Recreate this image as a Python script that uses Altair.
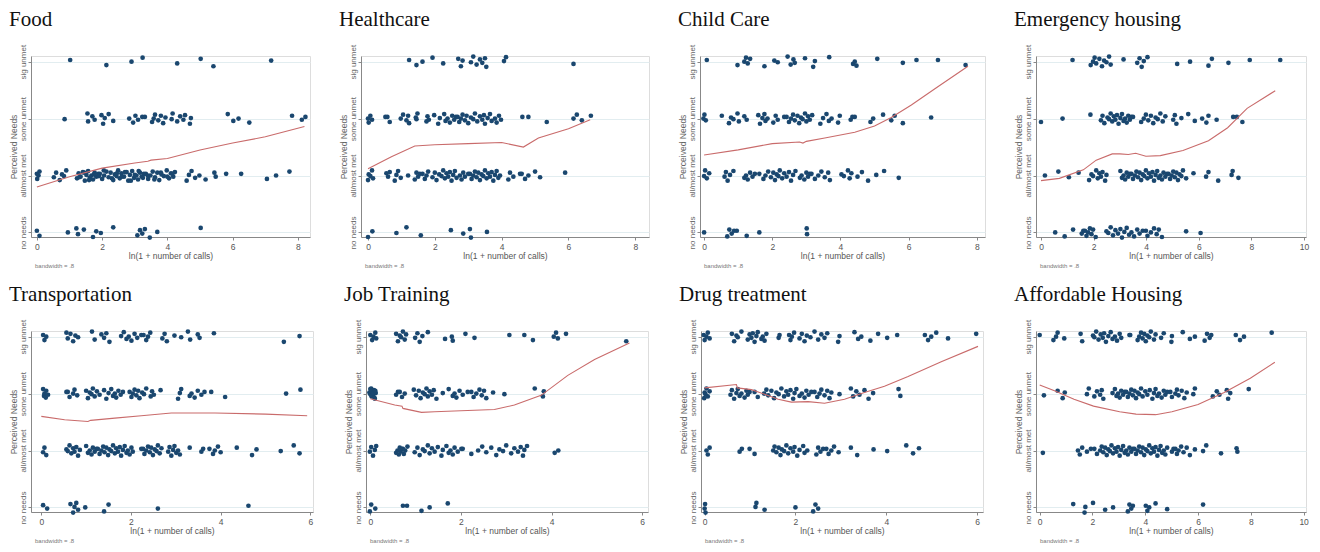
import altair as alt
import pandas as pd

# ---------------- data ----------------
LEVEL_NAMES = ["no needs", "all/most met", "some unmet", "sig unmet"]
TITLES = ["Food", "Healthcare", "Child Care", "Emergency housing",
          "Transportation", "Job Training", "Drug treatment", "Affordable Housing"]
XLABEL = "ln(1 + number of calls)"
YLABEL = "Perceived Needs"
NOTE = "bandwidth = .8"

# small vertical jitter offsets (in level units), cycled over points
JITTER = [0.03, -0.06, 0.0, 0.07, -0.03, 0.05, -0.08, 0.02, -0.01, 0.09, -0.05, 0.04,
          -0.02, 0.06, -0.09, 0.01, 0.08, -0.04, 0.0, -0.07, 0.05, -0.02, 0.03]

FOOD_SIG = [1.02, 2.13, 2.90, 3.24, 4.30, 5.02, 5.41, 7.18]
FOOD_SOME = [0.85, 1.55, 1.57, 1.70, 1.77, 1.98, 2.03, 2.08, 2.20, 2.34, 2.83, 2.95, 3.02, 3.10, 3.23, 3.31, 3.53,
             3.58, 3.62, 3.72, 3.80, 3.87, 3.94, 4.13, 4.16, 4.30, 4.39, 4.49, 4.54, 4.69, 4.72, 5.85, 6.02, 6.18,
             6.51, 7.82, 8.12, 8.23]
FOOD_MET = [0.0, 0.01, 0.05, 0.08, 0.52, 0.59, 0.70, 0.77, 0.83, 0.90, 1.23, 1.28, 1.34, 1.41, 1.47, 1.52, 1.57,
            1.62, 1.67, 1.72, 1.77, 1.82, 1.88, 1.93, 2.0, 2.06, 2.13, 2.2, 2.26, 2.34, 2.39, 2.44, 2.49, 2.54,
            2.59, 2.67, 2.75, 2.8, 2.85, 2.92, 2.98, 3.05, 3.1, 3.16, 3.21, 3.28, 3.34, 3.41, 3.48, 3.55, 3.62,
            3.69, 3.75, 3.82, 3.89, 3.98, 4.05, 4.11, 4.18, 4.23, 4.59, 4.66, 4.74, 4.85, 4.98, 5.17, 5.44, 5.48,
            5.8, 6.26, 7.05, 7.33, 7.74, 1.3, 1.45, 1.6, 1.75, 1.9, 2.05, 2.3, 2.45, 2.6, 2.7, 2.88, 3.0, 3.12,
            3.25, 3.4, 3.6, 3.8, 4.0, 4.15]
FOOD_NONE = [0.0, 0.08, 0.95, 1.21, 1.26, 1.44, 1.72, 1.82, 1.96, 2.34, 3.08, 3.16, 3.23, 3.31, 3.46, 3.69, 5.02]
FOOD_FIT_X = [0, 1, 2, 3, 3.4, 3.5, 4, 5, 6, 7, 8.2]
FOOD_FIT_Y = [1.80, 1.98, 2.13, 2.22, 2.25, 2.27, 2.30, 2.45, 2.57, 2.68, 2.86]

HEALTH_SIG = [1.23, 1.45, 1.63, 1.93, 2.25, 2.7, 2.78, 2.83, 3.08, 3.15, 3.25, 3.35, 3.42, 3.5, 3.54, 4.07, 4.13, 6.15]
HEALTH_SOME = [0.0, 0.02, 0.07, 0.12, 0.52, 0.58, 0.65, 0.98, 1.05, 1.15, 1.2, 1.23, 1.43, 1.45, 1.48, 1.75, 1.78,
               1.82, 1.98, 2.1, 2.15, 2.28, 2.32, 2.38, 2.45, 2.52, 2.58, 2.63, 2.68, 2.73, 2.78, 2.83, 2.9, 2.95,
               3.0, 3.08, 3.15, 3.2, 3.27, 3.35, 3.42, 3.47, 3.5, 3.58, 3.65, 3.7, 3.8, 3.85, 3.92, 3.98, 4.62,
               4.8, 5.35, 6.15, 6.25, 6.4, 6.67]
HEALTH_MET = [0.0, 0.02, 0.07, 0.12, 0.15, 0.55, 0.6, 0.65, 0.8, 0.85, 0.9, 0.98, 1.2, 1.4, 1.45, 1.5, 1.55, 1.63,
              1.7, 1.75, 1.8, 1.93, 2.0, 2.05, 2.13, 2.2, 2.25, 2.3, 2.35, 2.4, 2.45, 2.5, 2.55, 2.6, 2.65, 2.75,
              2.8, 2.85, 2.9, 3.0, 3.05, 3.1, 3.15, 3.2, 3.25, 3.3, 3.35, 3.4, 3.45, 3.5, 3.55, 3.6, 3.65, 3.7,
              3.75, 3.8, 3.85, 3.9, 3.95, 4.2, 4.25, 4.35, 4.55, 4.6, 4.7, 4.8, 5.0, 5.15, 5.9]
HEALTH_NONE = [0.0, 0.13, 0.85, 1.15, 1.58, 2.48, 2.85, 3.05, 3.08, 3.56]
HEALTH_FIT_X = [0, 0.7, 1.4, 2.0, 3.0, 4.0, 4.65, 5.1, 6.0, 6.65]
HEALTH_FIT_Y = [2.12, 2.33, 2.52, 2.54, 2.56, 2.58, 2.50, 2.66, 2.82, 2.98]

CHILD_SIG = [0.08, 0.98, 1.18, 1.23, 1.28, 1.35, 1.77, 2.06, 2.16, 2.45, 2.54, 2.62, 2.66, 2.96, 3.2, 3.25, 3.67,
             4.37, 4.42, 4.47, 5.08, 5.83, 6.23, 6.86, 7.67]
CHILD_SOME = [-0.02, 0.01, 0.05, 0.52, 0.73, 0.79, 0.86, 0.98, 1.02, 1.18, 1.25, 1.59, 1.64, 1.71, 1.77, 1.8, 1.86,
              2.03, 2.1, 2.16, 2.35, 2.42, 2.49, 2.55, 2.61, 2.66, 2.74, 2.79, 2.84, 2.89, 2.96, 3.0, 3.05, 3.1,
              3.17, 3.41, 3.49, 3.59, 3.66, 3.74, 3.93, 3.98, 4.3, 4.35, 4.42, 4.88, 4.96, 5.25, 5.49, 5.59, 5.83,
              6.66]
CHILD_MET = [0.0, 0.03, 0.08, 0.15, 0.6, 0.64, 0.69, 0.76, 0.86, 1.18, 1.23, 1.28, 1.35, 1.42, 1.49, 1.62, 1.74,
             1.8, 1.88, 1.96, 2.03, 2.08, 2.13, 2.18, 2.22, 2.29, 2.35, 2.42, 2.49, 2.55, 2.61, 2.68, 2.81, 2.86,
             2.94, 3.0, 3.05, 3.1, 3.15, 3.25, 3.35, 3.44, 3.54, 3.64, 3.69, 4.03, 4.1, 4.22, 4.27, 4.32, 4.5,
             4.63, 4.81, 5.05, 5.28, 5.71]
CHILD_NONE = [0.0, 0.68, 0.74, 0.81, 0.88, 0.96, 1.25, 1.62, 3.01, 3.02]
CHILD_FIT_X = [0, 1.0, 2.0, 2.8, 2.9, 3.0, 3.54, 4.42, 5.0, 5.49, 6.08, 6.76, 7.74]
CHILD_FIT_Y = [2.36, 2.45, 2.56, 2.59, 2.57, 2.60, 2.66, 2.76, 2.87, 3.02, 3.24, 3.52, 3.92]

EMERG_SIG = [1.2, 1.89, 1.98, 2.04, 2.1, 2.22, 2.32, 2.4, 2.49, 2.59, 2.65, 3.14, 3.66, 3.75, 3.83, 3.91, 4.05,
             5.18, 5.67, 6.37, 6.5, 7.13, 7.94, 9.1]
EMERG_SOME = [0.0, 0.82, 1.88, 2.28, 2.34, 2.41, 2.53, 2.59, 2.65, 2.71, 2.77, 2.83, 2.89, 2.95, 3.02, 3.08, 3.14,
              3.2, 3.26, 3.32, 3.38, 3.44, 3.5, 3.81, 3.91, 3.99, 4.08, 4.18, 4.27, 4.36, 4.44, 4.54, 4.63, 4.73,
              5.03, 5.09, 5.15, 5.34, 5.6, 5.85, 6.13, 6.29, 6.37, 6.68, 7.31, 7.45, 7.66]
EMERG_MET = [0.15, 0.66, 1.06, 1.43, 1.83, 1.92, 1.98, 2.1, 2.16, 2.22, 2.28, 2.34, 2.44, 2.49, 3.02, 3.08, 3.14,
             3.2, 3.26, 3.32, 3.38, 3.44, 3.5, 3.57, 3.63, 3.69, 3.75, 3.81, 3.87, 3.93, 3.99, 4.05, 4.11, 4.18,
             4.24, 4.3, 4.36, 4.42, 4.48, 4.54, 4.6, 4.66, 4.73, 4.79, 4.85, 4.91, 4.97, 5.03, 5.09, 5.15, 5.21,
             5.27, 5.34, 5.4, 5.52, 5.8, 6.28, 6.37, 6.74, 7.25, 7.29, 7.51]
EMERG_NONE = [0.54, 0.9, 1.22, 1.55, 1.61, 1.67, 1.73, 1.79, 1.86, 1.92, 1.98, 2.08, 2.49, 2.56, 2.65, 2.74, 2.83,
              2.93, 3.02, 3.08, 3.17, 3.26, 3.35, 3.44, 3.54, 3.66, 3.75, 3.87, 3.99, 4.05, 4.18, 4.3, 4.4, 4.48,
              4.6, 5.52, 6.07]
EMERG_FIT_X = [0, 0.7, 1.61, 2.1, 2.71, 3.0, 3.32, 3.6, 3.99, 4.54, 5.4, 6.37, 7.1, 7.84, 8.91]
EMERG_FIT_Y = [1.91, 1.95, 2.10, 2.27, 2.38, 2.38, 2.37, 2.39, 2.34, 2.35, 2.44, 2.61, 2.84, 3.18, 3.49]

TRANS_SIG = [0.04, 0.07, 0.11, 0.56, 0.59, 0.65, 0.71, 0.76, 0.82, 1.13, 1.19, 1.34, 1.4, 1.45, 1.52, 1.78, 1.84,
             1.9, 1.95, 2.01, 2.08, 2.14, 2.23, 2.28, 2.34, 2.38, 2.43, 2.7, 2.75, 2.8, 2.97, 3.12, 3.27, 3.32,
             3.49, 3.53, 3.85, 5.41, 5.76]
TRANS_SOME = [0.04, 0.06, 0.07, 0.1, 0.11, 0.15, 0.56, 0.59, 0.63, 0.71, 0.74, 0.8, 1.0, 1.04, 1.08, 1.12, 1.15,
              1.19, 1.24, 1.3, 1.4, 1.45, 1.5, 1.56, 1.6, 1.64, 1.67, 1.72, 1.77, 1.82, 1.97, 2.01, 2.04, 2.08,
              2.12, 2.16, 2.19, 2.25, 2.29, 2.34, 2.44, 2.47, 2.51, 2.66, 3.05, 3.09, 3.12, 3.31, 3.35, 3.42, 3.49,
              3.57, 3.64, 3.79, 4.1, 5.46, 5.78]
TRANS_MET = [0.04, 0.07, 0.11, 0.56, 0.59, 0.63, 0.67, 0.71, 0.74, 0.78, 0.82, 0.86, 1.0, 1.04, 1.08, 1.12, 1.15,
             1.19, 1.23, 1.26, 1.3, 1.34, 1.38, 1.41, 1.45, 1.49, 1.52, 1.56, 1.6, 1.64, 1.67, 1.71, 1.75, 1.78,
             1.82, 1.86, 1.9, 1.93, 1.97, 2.01, 2.04, 2.23, 2.27, 2.3, 2.34, 2.38, 2.42, 2.45, 2.49, 2.53, 2.57,
             2.6, 2.64, 2.68, 2.83, 2.86, 2.9, 2.94, 2.97, 3.01, 3.05, 3.09, 3.31, 3.57, 3.61, 3.75, 3.83, 3.87,
             3.94, 4.0, 4.36, 4.7, 4.8, 5.34, 5.63, 5.76]
TRANS_NONE = [0.04, 0.13, 0.65, 0.71, 0.74, 0.78, 0.82, 0.98, 1.4, 1.5, 2.6, 4.62]
TRANS_FIT_X = [0, 0.52, 1.04, 1.1, 1.64, 2.23, 2.9, 3.87, 5.0, 5.93]
TRANS_FIT_Y = [2.60, 2.54, 2.51, 2.53, 2.57, 2.61, 2.66, 2.66, 2.64, 2.61]

JOB_SIG = [0.0, 0.04, 0.07, 0.11, 0.13, 0.57, 0.61, 0.65, 0.68, 0.72, 0.76, 0.79, 0.99, 1.04, 1.09, 1.15, 1.27,
           1.65, 1.8, 1.82, 2.1, 2.3, 3.07, 3.4, 3.59, 4.05, 4.1, 4.14, 4.32, 5.65]
JOB_SOME = [-0.02, 0.0, 0.02, 0.03, 0.05, 0.06, 0.08, 0.1, 0.12, 0.0, 0.03, 0.06, 0.09, 0.11, 0.57, 0.61, 0.65,
            0.7, 0.76, 0.96, 1.01, 1.07, 1.11, 1.16, 1.2, 1.24, 1.27, 1.31, 1.36, 1.4, 1.46, 1.6, 1.73, 1.82, 1.86,
            1.9, 1.97, 2.04, 2.15, 2.23, 2.28, 2.34, 2.41, 2.46, 2.51, 2.56, 2.71, 2.96, 3.63, 3.81, 3.83]
JOB_MET = [-0.01, 0.02, 0.06, 0.1, 0.13, 0.57, 0.6, 0.63, 0.65, 0.67, 0.7, 0.72, 0.74, 0.77, 0.82, 0.98, 1.04,
           1.09, 1.16, 1.2, 1.27, 1.31, 1.36, 1.42, 1.49, 1.57, 1.6, 1.68, 1.73, 1.77, 1.82, 1.86, 1.93, 2.01,
           2.04, 2.23, 2.38, 2.47, 2.56, 2.67, 2.78, 2.85, 2.93, 3.0, 3.11, 3.18, 3.26, 3.32, 3.37, 3.4, 3.46,
           4.07, 4.15]
JOB_NONE = [-0.01, 0.02, 0.11, 0.72, 0.81, 1.13, 1.31, 1.71]
JOB_FIT_X = [0, 0.54, 0.70, 0.72, 1.13, 1.42, 2.0, 2.74, 3.18, 3.77, 4.36, 4.95, 5.72]
JOB_FIT_Y = [2.91, 2.80, 2.78, 2.74, 2.67, 2.68, 2.70, 2.72, 2.80, 2.97, 3.32, 3.60, 3.89]

DRUG_SIG = [-0.02, 0.0, 0.04, 0.07, 0.11, 0.6, 0.65, 0.7, 0.73, 0.81, 0.95, 0.99, 1.03, 1.06, 1.1, 1.14, 1.17,
            1.25, 1.28, 1.32, 1.36, 1.63, 1.65, 1.86, 1.89, 1.92, 1.97, 2.09, 2.14, 2.2, 2.25, 2.33, 2.42, 2.5,
            2.57, 2.64, 2.7, 2.94, 2.97, 3.3, 3.38, 3.45, 3.65, 3.82, 4.02, 4.24, 4.85, 4.92, 4.99, 5.1, 5.36, 5.98]
DRUG_SOME = [-0.01, 0.0, 0.02, 0.04, 0.07, 0.11, 0.57, 0.6, 0.65, 0.7, 0.73, 0.77, 0.81, 0.88, 0.92, 0.95, 0.99,
             1.1, 1.17, 1.31, 1.36, 1.4, 1.47, 1.53, 1.58, 1.63, 1.69, 1.75, 1.8, 1.84, 1.89, 1.95, 1.98, 2.02,
             2.09, 2.14, 2.2, 2.24, 2.29, 2.35, 2.42, 2.48, 2.53, 2.57, 2.64, 2.7, 2.75, 2.79, 2.97, 3.22, 3.27,
             3.34, 3.41, 3.52, 3.61, 3.71, 4.27, 4.31]
DRUG_MET = [0.04, 0.07, 0.11, 0.77, 0.82, 0.99, 1.1, 1.51, 1.54, 1.58, 1.63, 1.67, 1.7, 1.75, 1.8, 1.84, 1.89,
            1.95, 1.98, 2.04, 2.09, 2.17, 2.2, 2.26, 2.46, 2.5, 2.55, 2.61, 2.68, 2.73, 2.79, 2.85, 2.95, 3.22,
            3.36, 3.72, 4.02, 4.44, 4.59, 4.72]
DRUG_NONE = [0.0, 0.01, 0.02, 1.12, 1.14, 1.32, 2.0, 2.39, 2.44, 2.5]
DRUG_FIT_X = [0, 0.7, 0.72, 1.03, 1.32, 1.62, 1.91, 2.28, 2.64, 3.08, 3.52, 3.96, 4.48, 5.21, 6.02]
DRUG_FIT_Y = [3.10, 3.16, 3.10, 3.07, 2.99, 2.90, 2.85, 2.86, 2.83, 2.90, 3.02, 3.13, 3.30, 3.56, 3.83]

AFF_SIG = [0.0, 0.52, 0.62, 0.68, 0.93, 1.55, 1.61, 2.02, 2.07, 2.14, 2.23, 2.31, 2.39, 2.44, 2.51, 2.6, 2.69,
           2.76, 2.85, 2.93, 3.03, 3.09, 3.4, 3.43, 3.71, 3.77, 3.84, 3.9, 3.96, 4.02, 4.08, 4.15, 4.21, 4.33,
           4.39, 4.6, 4.7, 4.99, 5.01, 5.42, 5.69, 5.88, 6.25, 6.34, 6.44, 6.5, 7.43, 7.59, 7.74, 8.79]
AFF_SOME = [0.16, 0.68, 0.87, 0.95, 1.79, 1.86, 2.07, 2.17, 2.29, 2.35, 2.41, 2.76, 2.85, 2.91, 2.97, 3.03, 3.09,
            3.16, 3.22, 3.28, 3.34, 3.4, 3.47, 3.53, 3.59, 3.65, 3.71, 3.77, 3.84, 3.9, 4.0, 4.08, 4.17, 4.27,
            4.33, 4.39, 4.46, 4.52, 4.62, 4.7, 4.76, 4.83, 4.95, 5.01, 5.14, 5.2, 5.26, 5.38, 5.48, 5.57, 5.82,
            5.88, 6.56, 6.71, 6.81, 7.09, 7.14, 7.22, 7.92]
AFF_MET = [0.12, 1.45, 1.52, 1.61, 1.79, 1.94, 2.07, 2.17, 2.29, 2.35, 2.41, 2.48, 2.54, 2.6, 2.66, 2.72, 2.78,
           2.85, 2.91, 2.97, 3.03, 3.09, 3.16, 3.22, 3.28, 3.34, 3.4, 3.47, 3.53, 3.59, 3.65, 3.71, 3.77, 3.84,
           3.9, 3.96, 4.02, 4.08, 4.15, 4.21, 4.27, 4.33, 4.39, 4.46, 4.52, 4.58, 4.64, 4.7, 4.76, 4.83, 5.01,
           5.07, 5.14, 5.2, 5.26, 5.36, 5.45, 5.57, 5.69, 5.88, 6.19, 6.31, 6.87, 7.46, 7.49]
AFF_NONE = [1.27, 1.7, 1.73, 2.02, 2.48, 2.78, 3.34, 3.4, 3.47, 3.53, 4.02, 4.08, 4.15, 4.39, 4.83, 6.19]
AFF_FIT_X = [0, 0.56, 1.3, 2.04, 3.03, 3.65, 4.39, 5.01, 6.0, 6.99, 7.98, 8.91]
AFF_FIT_Y = [3.15, 3.05, 2.90, 2.78, 2.68, 2.64, 2.63, 2.68, 2.81, 3.02, 3.27, 3.55]

# x axis ranges & ticks per panel
XDOMAINS = [[-0.18, 8.37], [-0.21, 8.41], [-0.12, 8.24], [-0.19, 10.08],
            [-0.23, 6.06], [-0.095, 6.13], [-0.08, 6.13], [-0.14, 10.09]]
XTICKS = [[0, 2, 4, 6, 8]] * 3 + [[0, 2, 4, 6, 8, 10]] + [[0, 2, 4, 6]] * 3 + [[0, 2, 4, 6, 8, 10]]

# ---------------- styling ----------------
NAVY = "#1a476f"
FITC = "#c96b6b"
GRID = "#e2edf0"
SANS = "Liberation Sans"
SERIF = "Liberation Serif"
H = 181
YDOM = [0.92, 4.1]
WIDTHS = [279, 288, 285, 270, 282, 282, 282, 270]

LABEL_EXPR = ("datum.value == 1 ? 'no needs' : datum.value == 2 ? 'all/most met' : "
              "datum.value == 3 ? 'some unmet' : 'sig unmet'")


def panel(i, sig, some, met, none, fx, fy):
    rows = []
    k = 0
    for lev, xs in ((4, sig), (3, some), (2, met), (1, none)):
        for x in xs:
            rows.append({"x": x, "y": lev + JITTER[k % len(JITTER)]})
            k += 1
    pts_df = pd.DataFrame(rows)
    xscale = alt.Scale(domain=XDOMAINS[i], nice=False, zero=False)
    yscale = alt.Scale(domain=YDOM, nice=False, zero=False)
    xaxis = alt.Axis(values=XTICKS[i], title=XLABEL, grid=False, tickSize=3, labelPadding=2,
                     labelFontSize=8.5, titleFontSize=8.5, titlePadding=1, labelColor="#555",
                     titleColor="#555", titleFontWeight="normal", domainColor="#888", tickColor="#888",
                     labelFont=SANS, titleFont=SANS)
    yaxis = alt.Axis(values=[1, 2, 3, 4], labelExpr=LABEL_EXPR, title=YLABEL, grid=True, gridColor=GRID,
                     gridWidth=1, tickSize=3, labelPadding=1, labelAngle=-90, labelAlign="center",
                     labelBaseline="bottom", labelFontSize=8, titleFontSize=8.5, titlePadding=1,
                     labelColor="#666", titleColor="#666", titleFontWeight="normal", domainColor="#888",
                     tickColor="#888", labelFont=SANS, titleFont=SANS)
    pts = alt.Chart(pts_df).mark_circle(size=22, color=NAVY, opacity=1).encode(
        x=alt.X("x:Q", scale=xscale, axis=xaxis),
        y=alt.Y("y:Q", scale=yscale, axis=yaxis),
    )
    fit = alt.Chart(pd.DataFrame({"x": fx, "y": fy})).mark_line(color=FITC, strokeWidth=1.1).encode(
        x="x:Q", y="y:Q")
    note = alt.Chart(pd.DataFrame({"t": [NOTE]})).mark_text(
        align="left", baseline="middle", fontSize=6, color="#777", font=SANS).encode(
        x=alt.value(4), y=alt.value(H + 29), text="t:N")
    return alt.layer(pts, fit, note).properties(
        width=WIDTHS[i], height=H,
        title=alt.TitleParams(TITLES[i], anchor="start", frame="bounds", font=SERIF, fontSize=21,
                              fontWeight="normal", color="#111", offset=14))


panels = [
    panel(0, FOOD_SIG, FOOD_SOME, FOOD_MET, FOOD_NONE, FOOD_FIT_X, FOOD_FIT_Y),
    panel(1, HEALTH_SIG, HEALTH_SOME, HEALTH_MET, HEALTH_NONE, HEALTH_FIT_X, HEALTH_FIT_Y),
    panel(2, CHILD_SIG, CHILD_SOME, CHILD_MET, CHILD_NONE, CHILD_FIT_X, CHILD_FIT_Y),
    panel(3, EMERG_SIG, EMERG_SOME, EMERG_MET, EMERG_NONE, EMERG_FIT_X, EMERG_FIT_Y),
    panel(4, TRANS_SIG, TRANS_SOME, TRANS_MET, TRANS_NONE, TRANS_FIT_X, TRANS_FIT_Y),
    panel(5, JOB_SIG, JOB_SOME, JOB_MET, JOB_NONE, JOB_FIT_X, JOB_FIT_Y),
    panel(6, DRUG_SIG, DRUG_SOME, DRUG_MET, DRUG_NONE, DRUG_FIT_X, DRUG_FIT_Y),
    panel(7, AFF_SIG, AFF_SOME, AFF_MET, AFF_NONE, AFF_FIT_X, AFF_FIT_Y),
]

top = alt.hconcat(*panels[:4], spacing=51, bounds="flush")
bottom = alt.hconcat(*panels[4:], spacing=53, bounds="flush")

chart = alt.vconcat(top, bottom, spacing=H + 94, bounds="flush").properties(
    padding={"left": 0, "top": 0, "right": 0, "bottom": 0}
).configure_view(stroke=None).configure(background="white")

chart.save("out.html", embed_options={"renderer": "svg", "actions": False})
